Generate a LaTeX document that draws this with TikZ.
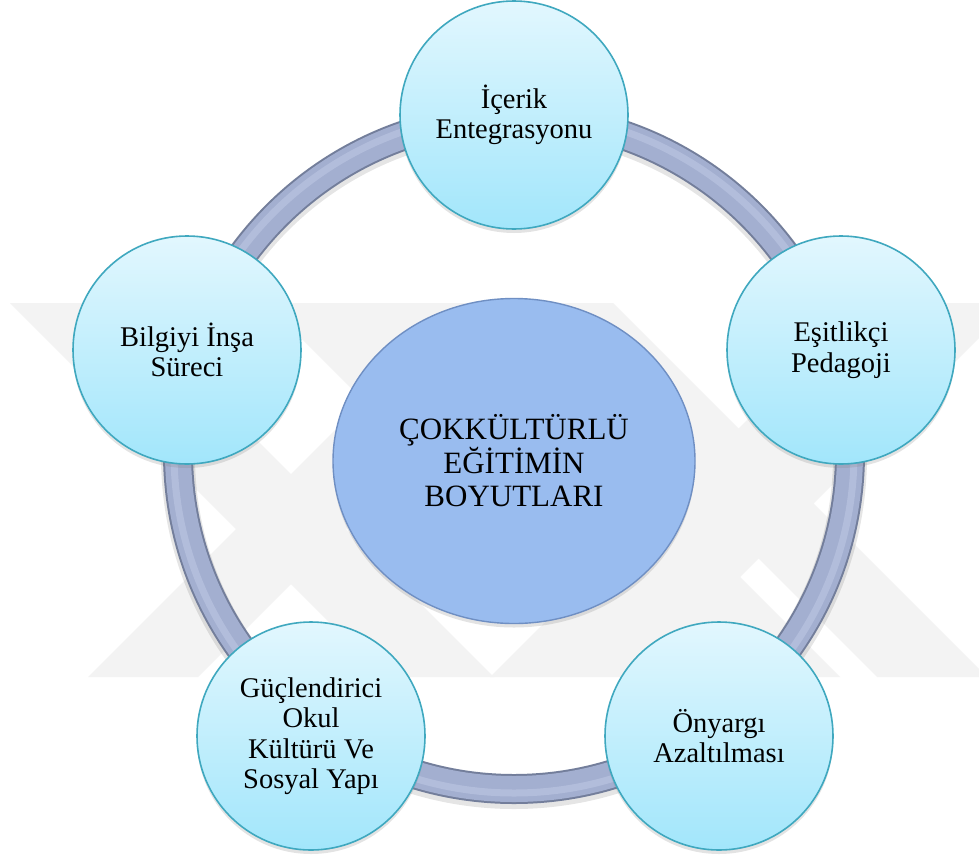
\documentclass[tikz,border=0pt]{standalone}
\usepackage{fontspec}
\setmainfont{Liberation Serif}
\usetikzlibrary{shapes.geometric,shadows}
\definecolor{wm}{HTML}{F3F3F3}
\definecolor{ringdark}{HTML}{737E9B}
\definecolor{ringmid}{HTML}{A3AFD0}
\definecolor{ringhi}{HTML}{B9C3E0}
\definecolor{circtop}{HTML}{E2F7FE}
\definecolor{circbot}{HTML}{A2E6FB}
\definecolor{circline}{HTML}{3FA8BF}
\definecolor{centfill}{HTML}{99BCEF}
\definecolor{centline}{HTML}{6F8FC3}
\begin{document}
\begin{tikzpicture}[x=1pt,y=-1pt,
  outer/.style={circle, minimum size=228pt, inner sep=0pt, draw=circline, line width=1.6pt,
    top color=circtop, bottom color=circbot, align=center,
    font=\fontsize{28.5pt}{30.5pt}\selectfont, text=black,
    drop shadow={opacity=0.22, shadow xshift=0pt, shadow yshift=-4pt}},
  centre/.style={ellipse, minimum width=362pt, minimum height=325pt, inner sep=0pt,
    draw=centline, line width=1.4pt, fill=centfill, align=center,
    font=\fontsize{31pt}{33.5pt}\selectfont, text=black,
    drop shadow={opacity=0.22, shadow xshift=0pt, shadow yshift=-4pt}},
  wmband/.style={fill=wm, draw=none}]
\useasboundingbox (0,0) rectangle (979,857);
\fill[white] (0,0) rectangle (979,857);
% faint watermark
\begin{scope}
\clip (0,303) rectangle (979,677);
\fill[wmband] (10,303) -- (120,303) -- (494,677) -- (384,677) -- cycle;
\fill[wmband] (462,303) -- (572,303) -- (198,677) -- (88,677) -- cycle;
\fill[wmband] (864,303) -- (1014,303) -- (640,677) -- (490,677) -- cycle;
\fill[wmband] (266,303) -- (466,303) -- (840,677) -- (640,677) -- cycle;
\fill[wmband] (503,303) -- (613,303) -- (987,677) -- (877,677) -- cycle;
\end{scope}
% ring
\coordinate (rc) at (514,453);
\draw[line width=34pt, black, opacity=0.10] ([yshift=-3pt]rc) circle[radius=336];
\draw[line width=30pt, ringdark] (rc) circle[radius=336];
\draw[line width=26pt, ringmid] (rc) circle[radius=336];
\draw[line width=7pt, ringhi, opacity=0.7] (rc) circle[radius=340];
% centre
\node[centre] (c) at (514,461) {ÇOKKÜLTÜRLÜ\\EĞİTİMİN\\BOYUTLARI};
% outer circles
\node[outer] (n1) at (514,115) {İçerik\\Entegrasyonu};
\node[outer] (n2) at (841,350) {Eşitlikçi\\Pedagoji};
\node[outer] (n3) at (719,736) {Önyargı\\Azaltılması};
\node[outer] (n4) at (311,736) {Güçlendirici\\Okul\\Kültürü Ve\\Sosyal Yapı};
\node[outer] (n5) at (187,350) {Bilgiyi İnşa\\Süreci};
\end{tikzpicture}
\end{document}
